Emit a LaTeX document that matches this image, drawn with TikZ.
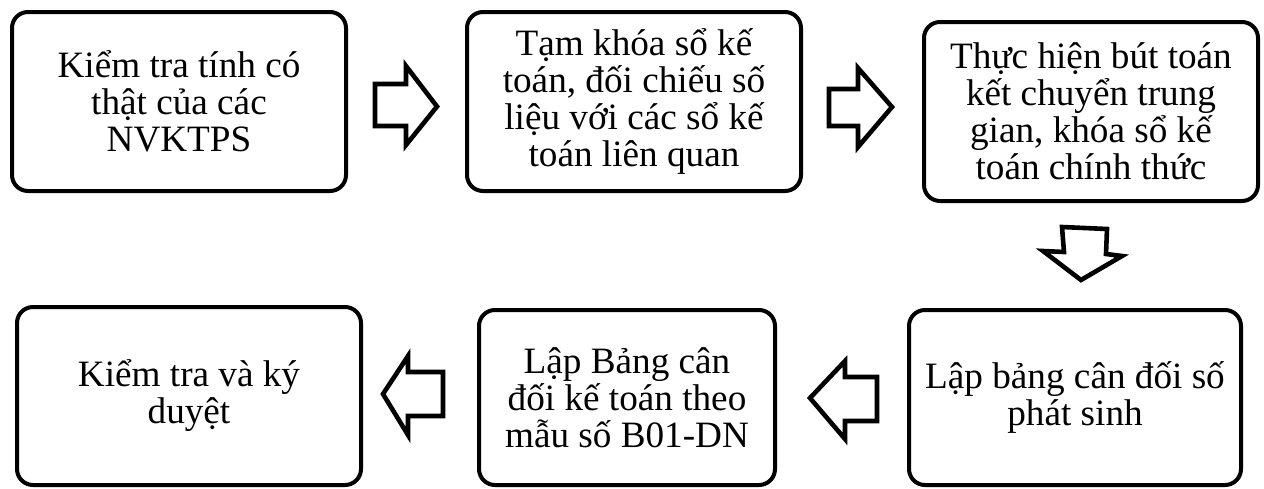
\documentclass[tikz,border=0pt]{standalone}
\usepackage{fontspec}
\setmainfont{Liberation Serif}
\begin{document}
\begin{tikzpicture}[x=0.5pt,y=-0.5pt,
  stepbox/.style={draw=black, line width=2pt, rounded corners=8pt, fill=white,
    align=center, inner sep=0pt, font=\fontsize{18.6}{18.5}\selectfont},
  blockarrow/.style={draw=black, line width=2.3pt, fill=white, line join=miter}]
\useasboundingbox (0,0) rectangle (1264,488);
\node[stepbox, minimum width=167pt, minimum height=89.5pt] (b1) at (179,101.5)
  {Kiểm tra tính có\\thật của các\\NVKTPS};
\node[stepbox, minimum width=167pt, minimum height=89.5pt] (b2) at (634,101.5)
  {Tạm khóa sổ kế\\toán, đối chiếu số\\liệu với các sổ kế\\toán liên quan};
\node[stepbox, minimum width=167pt, minimum height=89.5pt] (b3) at (1091,111.5)
  {Thực hiện bút toán\\kết chuyển trung\\gian, khóa sổ kế\\toán chính thức};
\node[stepbox, minimum width=166pt, minimum height=87.5pt] (b4) at (1075,397.5)
  {Lập bảng cân đối số\\phát sinh};
\node[stepbox, minimum width=148pt, minimum height=87.5pt] (b5) at (627,397.5)
  {Lập Bảng cân\\đối kế toán theo\\mẫu số B01-DN};
\node[stepbox, minimum width=172pt, minimum height=89pt] (b6) at (189,396)
  {Kiểm tra và ký\\duyệt};
% block arrows
\draw[blockarrow] (375,84) -- (406,84) -- (406,66) -- (437,106.5) -- (406,145) -- (406,126) -- (375,126) -- cycle;
\draw[blockarrow] (829,89) -- (858,89) -- (858,68) -- (892,107) -- (858,147) -- (858,126) -- (829,126) -- cycle;
\draw[blockarrow] (1062,227) -- (1107,229) -- (1106,254) -- (1122,256) -- (1081,280) -- (1043,251) -- (1064,252) -- cycle;
\draw[blockarrow] (877,377) -- (845,377) -- (845,361) -- (810,398) -- (845,439) -- (845,421) -- (877,421) -- cycle;
\draw[blockarrow] (443,372) -- (408,372) -- (408,356) -- (383,394) -- (408,435) -- (408,416) -- (443,416) -- cycle;
\end{tikzpicture}
\end{document}
